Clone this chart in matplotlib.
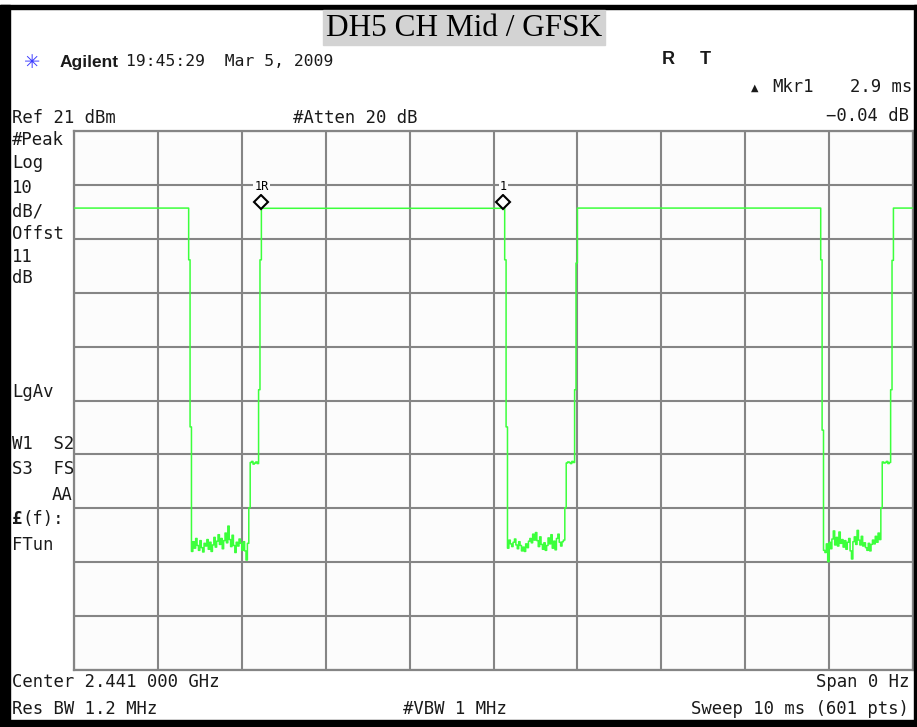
import numpy as np
import matplotlib
matplotlib.use('Agg')
import matplotlib.pyplot as plt
import matplotlib.transforms as mtransforms
from matplotlib.patches import Rectangle

W, H = 917, 727

##############################trace data (dBm per sweep point)###################
sweep_ms = 10.0
n_pts = 601
ref_dbm = 21
db_div = 10

burst_dbm = [6.70, 6.66, 6.70, 6.70]   # top level of each burst
burst_len = [82, 174, 174, 15]         # points held at the top level
fall_dbm = [[-2.9, -33.9], [-2.9, -33.9], [-2.9, -34.5]]
foot_dbm = [-48.9, -48.9, -48.9]
top_dbm = [[-27.0, -2.9], [-27.0, -3.5], [-27.0, -3.0]]

noise_1 = [-57.0, -55.2, -56.4, -54.6, -55.9, -56.8, -55.0, -56.3, -57.1, -55.5,
           -56.0, -54.8, -56.6, -55.3, -57.0, -55.8, -54.4, -56.2, -55.1, -53.9,
           -55.7, -54.6, -56.5, -55.0, -53.6, -55.4, -52.3, -54.8, -56.1, -54.0,
           -55.9, -57.2, -55.3, -56.0, -54.7, -55.5, -56.8, -55.2, -56.9, -58.6, -55.5]
noise_2 = [-56.4, -54.9, -55.6, -56.1, -55.3, -54.7, -55.8, -56.5, -55.2, -55.9,
           -56.9, -56.2, -57.0, -55.6, -56.3, -55.1, -54.6, -55.4, -53.8, -54.9,
           -53.5, -55.0, -56.1, -54.3, -55.7, -56.6, -55.4, -56.8, -55.9, -54.5,
           -55.6, -53.9, -56.4, -55.1, -56.7, -54.6, -53.8, -55.3, -56.0, -55.2, -54.9]
noise_3 = [-56.8, -57.2, -55.6, -58.9, -55.3, -56.5, -54.7, -53.2, -55.8, -54.4,
           -56.0, -53.4, -55.5, -54.8, -56.2, -55.0, -56.6, -55.3, -54.6, -56.9,
           -58.4, -55.2, -54.3, -55.7, -53.1, -54.9, -55.8, -54.2, -56.0, -55.4,
           -56.3, -56.8, -55.5, -56.9, -55.7, -54.9, -55.6, -54.2, -55.3, -53.6, -54.8]
shelf_1 = [-40.5, -40.3, -40.8, -40.6, -40.4, -40.7]
shelf_2 = [-40.6, -40.4, -40.5, -40.7, -40.3, -40.5]
shelf_3 = [-40.4, -40.6, -40.5, -40.3, -40.7, -40.5]

mkr_idx = [134, 307]
mkr_lbl = ['1R', '1']

noise = [noise_1, noise_2, noise_3]
shelf = [shelf_1, shelf_2, shelf_3]
level = []
for k in range(3):
    level += [burst_dbm[k]] * burst_len[k]
    level += fall_dbm[k] + noise[k] + [foot_dbm[k]] + shelf[k] + top_dbm[k]
level += [burst_dbm[3]] * burst_len[3]
level = np.array(level)
t = np.arange(n_pts) * sweep_ms / (n_pts - 1)

###############################################################################
fig = plt.figure(figsize=(W / 100, H / 100), dpi=100)
fig.patch.set_facecolor('white')

ax = fig.add_axes([74 / W, 1 - 670 / H, (913 - 74) / W, (670 - 131) / H])
ax.set_facecolor('#fcfcfc')
ax.set_xlim(0, sweep_ms)
ax.set_ylim(ref_dbm - 10 * db_div, ref_dbm)
ax.set_xticks(np.arange(0, 11) * sweep_ms / 10)
ax.set_yticks(ref_dbm - np.arange(0, 11) * db_div)
ax.tick_params(length=0, labelbottom=False, labelleft=False)
ax.grid(True, color='#858585', linewidth=1.5)
for s in ax.spines.values():
    s.set_color('#858585')
    s.set_linewidth(1.6)

ax.plot(t, level, drawstyle='steps-post', color='#3cff3c', linewidth=1.1, zorder=3)

# markers: diamond sits just above the trace, label on top
mono = 'DejaVu Sans Mono'
for i, lb in zip(mkr_idx, mkr_lbl):
    off = mtransforms.offset_copy(ax.transData, fig=fig, x=0, y=4.5, units='points')
    ax.plot(t[i], level[i], marker='D', ms=7, mfc='white', mec='black', mew=1.5,
            transform=off, zorder=5, clip_on=False)
    off2 = mtransforms.offset_copy(ax.transData, fig=fig, x=0, y=15.5, units='points')
    ax.text(t[i], level[i], lb, transform=off2, fontsize=8.5, family=mono,
            ha='center', va='center', zorder=5,
            bbox=dict(facecolor='#fcfcfc', edgecolor='none', pad=0.8))


def px(x, y):
    return x / W, 1 - y / H


def txt(x, y, s, ha='left', **kw):
    kw.setdefault('family', mono)
    kw.setdefault('fontsize', 12.4)
    fig.text(*px(x, y), s, ha=ha, va='center', color='#1a1a1a', **kw)


# outer black frame and title box
for (x0, y0, x1, y1) in [(0, 5, W, 9), (0, 5, 10, H), (0, 720, W, H), (914, 5, W, H)]:
    fig.patches.append(Rectangle((x0 / W, 1 - y1 / H), (x1 - x0) / W, (y1 - y0) / H,
                                 transform=fig.transFigure, color='black', zorder=0))
fig.patches.append(Rectangle((323 / W, 1 - 45 / H), 282 / W, 35 / H,
                             transform=fig.transFigure, color='#d3d3d3', zorder=0))
fig.text(*px(464, 28), 'DH5 CH Mid / GFSK', ha='center', va='center',
         family='Liberation Serif', fontsize=22.5, color='black')

# header
fig.text(*px(32, 62), '✳', ha='center', va='center', family='DejaVu Sans',
         fontsize=14, color='#3a3aff')
txt(60, 62, 'Agilent', family='Liberation Sans', fontweight='bold', fontsize=12.5)
txt(126, 62, '19:45:29  Mar 5, 2009', fontsize=11.8)
txt(662, 60, 'R', family='Liberation Sans', fontweight='bold', fontsize=13)
txt(700, 60, 'T', family='Liberation Sans', fontweight='bold', fontsize=13)
txt(751, 88, '▲', fontsize=7, family='DejaVu Sans')
txt(772, 87, 'Mkr1')
txt(912, 87, '2.9 ms', ha='right')
txt(909, 116, '\u22120.04 dB', ha='right')
txt(12, 118, 'Ref 21 dBm')
txt(293, 118, '#Atten 20 dB')

# left annotation column
for y, s in [(140, '#Peak'), (163, 'Log'), (188, '10'), (211, 'dB/'), (234, 'Offst'),
             (257, '11'), (278, 'dB'), (392, 'LgAv'), (444, 'W1  S2'), (469, 'S3  FS')]:
    txt(12, y, s)
txt(72, 495, 'AA', ha='right')
txt(12, 519, '£', fontweight='bold')
txt(22, 519, '(f):')
txt(12, 545, 'FTun')

# bottom annotation
txt(12, 682, 'Center 2.441 000 GHz')
txt(909, 682, 'Span 0 Hz', ha='right')
txt(12, 709, 'Res BW 1.2 MHz')
txt(403, 709, '#VBW 1 MHz')
txt(909, 709, 'Sweep 10 ms (601 pts)', ha='right')

fig.savefig('out.png', dpi=100)
